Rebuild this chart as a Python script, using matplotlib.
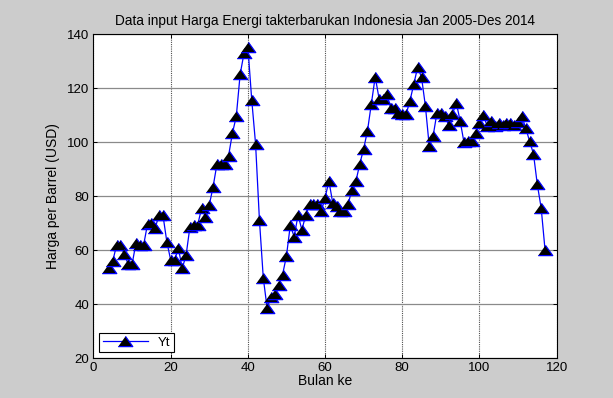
import numpy as np
import matplotlib
matplotlib.use("Agg")
import matplotlib.pyplot as plt

plt.rcParams['font.family'] = ['Liberation Sans', 'DejaVu Sans']

# harga per barrel (USD), bulan ke-4 s/d ke-117
harga = [53.3, 56, 62, 62, 58.5, 54.8, 54.8, 62.6, 62, 62,
         69.7, 70, 68.4, 73, 73, 63.2, 56.4, 56.4, 60.7, 53.3,
         58.2, 68.8, 69.4, 69.4, 75.5, 72.5, 76.7, 83.6, 92, 92,
         92, 95, 103.4, 109.6, 125.2, 133, 135.5, 115.8, 99.4, 71.2,
         49.7, 38.5, 42.8, 43.7, 47, 51, 57.9, 69.3, 65, 73,
         67.6, 73, 77.3, 77, 77.3, 74.4, 79.4, 85.7, 77.5, 76.3,
         74.7, 74.5, 77.3, 82.5, 85.6, 92, 97.6, 104.3, 114.3, 124.3,
         116.2, 116.2, 118.1, 112.7, 112.7, 111, 110.4, 110.4, 115.4, 121.6,
         127.9, 124.1, 113.5, 98.6, 102.3, 111, 111, 109.8, 106.6, 110.4,
         114.7, 108, 100, 100.4, 100.4, 103.5, 107.2, 110.3, 106, 107.8,
         106, 107, 106.5, 107, 107, 106.5, 107.5, 109.6, 105.3, 100.4,
         95.8, 84.4, 75.7, 60.2]
bulan = np.arange(4, 4 + len(harga))

xticks = [0, 20, 40, 60, 80, 100, 120]
yticks = [20, 40, 60, 80, 100, 120, 140]

fig = plt.figure(figsize=(6.13, 3.98), dpi=100, facecolor="#cccccc")
ax = fig.add_axes([0.1525, 0.1, 0.7555, 0.8135])

ax.set_xlim(0, 120)
ax.set_ylim(20, 140)
ax.set_xticks(xticks)
ax.set_yticks(yticks)

# grid ala MATLAB
ax.grid(True, axis="x", linestyle=(0, (1, 1)), color="#505050", linewidth=0.8, alpha=1)
ax.grid(True, axis="y", linestyle="-", color="#8a8a8a", linewidth=0.9, alpha=1)

tri = [(-1, -0.7), (1, -0.7), (0, 0.7)]
ax.plot(bulan, harga, color="#0000ff", linewidth=0.9, marker=tri, markersize=10.5,
        markerfacecolor="black", markeredgecolor="#0000ff", markeredgewidth=0.9,
        label="Yt", zorder=3)

ax.tick_params(direction="in", length=3, width=0.7, labelsize=9.5, top=True, right=True, pad=3)
for s in ax.spines.values():
    s.set_linewidth(0.8)

ax.set_title("Data input Harga Energi takterbarukan Indonesia Jan 2005-Des 2014", fontsize=9.8, pad=7)
ax.set_xlabel("Bulan ke", fontsize=10, labelpad=0)
ax.set_ylabel("Harga per Barrel (USD)", fontsize=10, labelpad=5)

leg = ax.legend(loc="lower left", fontsize=9.5, handlelength=3.4, borderaxespad=0.45,
                fancybox=False, framealpha=1, edgecolor="black", borderpad=0.25)
leg.get_frame().set_linewidth(0.8)

fig.savefig("out.png", dpi=100, facecolor=fig.get_facecolor())
